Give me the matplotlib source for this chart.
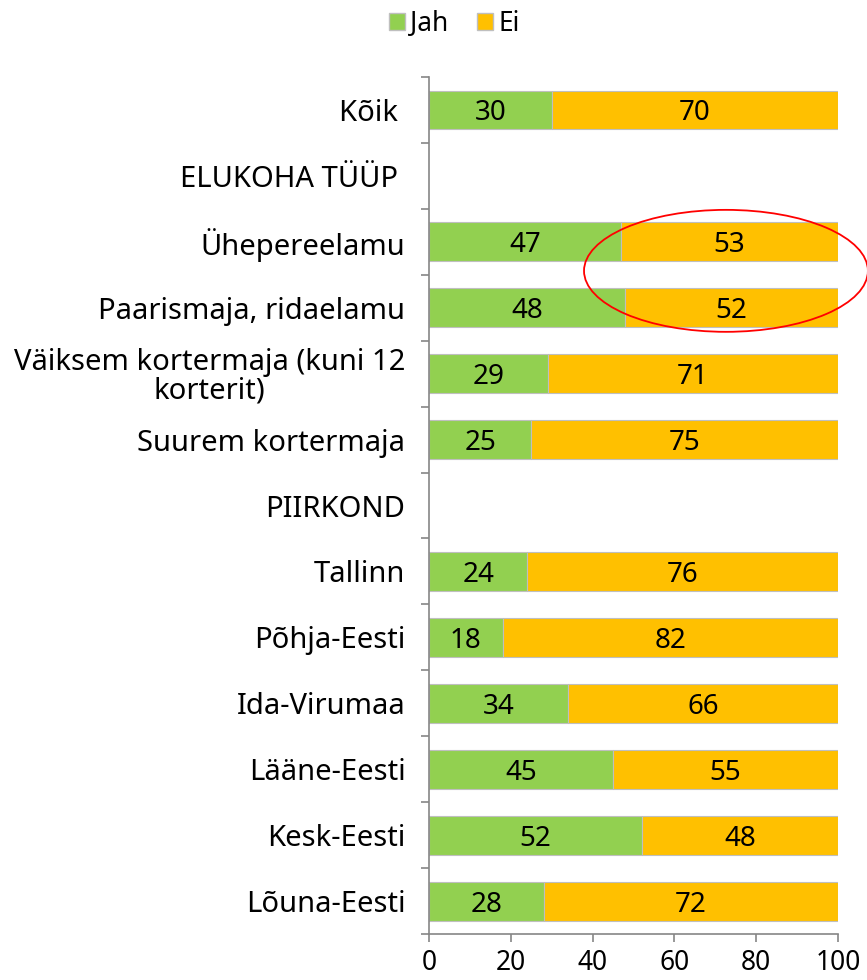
import matplotlib
matplotlib.use("Agg")
import matplotlib.pyplot as plt
from matplotlib.patches import Ellipse, Patch
import numpy as np

# -----------------------
# Data
# -----------------------
categories = [
    "Kõik ",
    "ELUKOHA TÜÜP ",
    "Ühepereelamu",
    "Paarismaja, ridaelamu",
    "Väiksem kortermaja (kuni 12\nkorterit)",
    "Suurem kortermaja",
    "PIIRKOND",
    "Tallinn",
    "Põhja-Eesti",
    "Ida-Virumaa",
    "Lääne-Eesti",
    "Kesk-Eesti",
    "Lõuna-Eesti",
]
jah = [30, None, 47, 48, 29, 25, None, 24, 18, 34, 45, 52, 28]
ei = [70, None, 53, 52, 71, 75, None, 76, 82, 66, 55, 48, 72]
xticks = [0, 20, 40, 60, 80, 100]

green = "#92D050"
yellow = "#FFC000"
axis_gray = "#868686"
fs_lab = 21
fs_val = 20
fs_tick = 19

plt.rcParams['font.family'] = ['Noto Sans', 'DejaVu Sans']

fig = plt.figure(figsize=(8.67, 9.8), dpi=100)
ax = fig.add_axes([0.4948, 0.0469, 0.4718, 0.8745])

y = np.arange(len(categories))
for i in y:
    if jah[i] is None:
        continue
    ax.barh(i, jah[i], height=0.59, color=green, edgecolor="#bfbfbf", linewidth=0.8)
    ax.barh(i, ei[i], left=jah[i], height=0.59, color=yellow, edgecolor="#bfbfbf", linewidth=0.8)
    ax.text(jah[i] / 2, i, str(jah[i]), ha="center", va="center_baseline", fontsize=fs_val)
    ax.text(jah[i] + ei[i] / 2, i, str(ei[i]), ha="center", va="center_baseline", fontsize=fs_val)

ax.set_ylim(len(categories) - 0.5, -0.5)
ax.set_xlim(0, 100)

ax.set_yticks(y)
ax.set_yticklabels(categories, fontsize=fs_lab, linespacing=0.95, multialignment="center")
ax.set_yticks(np.arange(-0.5, len(categories)), minor=True)
ax.tick_params(axis="y", which="major", length=0, pad=17)
ax.tick_params(axis="y", which="minor", length=6, color=axis_gray, width=1.2)

ax.set_xticks(xticks)
ax.set_xticklabels([str(t) for t in xticks], fontsize=fs_tick)
ax.tick_params(axis="x", length=6, color=axis_gray, width=1.2, pad=5)

for s in ["top", "right"]:
    ax.spines[s].set_visible(False)
for s in ["left", "bottom"]:
    ax.spines[s].set_color(axis_gray)
    ax.spines[s].set_linewidth(1.2)

# red highlight ellipse
ell = Ellipse((72.6, 2.44), 69.4, 1.85, fill=False, edgecolor="red", linewidth=1.3, clip_on=False)
ax.add_patch(ell)

handles = [Patch(facecolor=green, edgecolor="#bfbfbf", label="Jah"),
           Patch(facecolor=yellow, edgecolor="#bfbfbf", label="Ei")]
fig.legend(handles=handles, loc="center", bbox_to_anchor=(0.524, 0.976), ncol=2, frameon=False,
           fontsize=fs_tick, handlelength=0.6, handleheight=0.6, handletextpad=0.2, columnspacing=1.1)

fig.savefig("out.png", dpi=100)
